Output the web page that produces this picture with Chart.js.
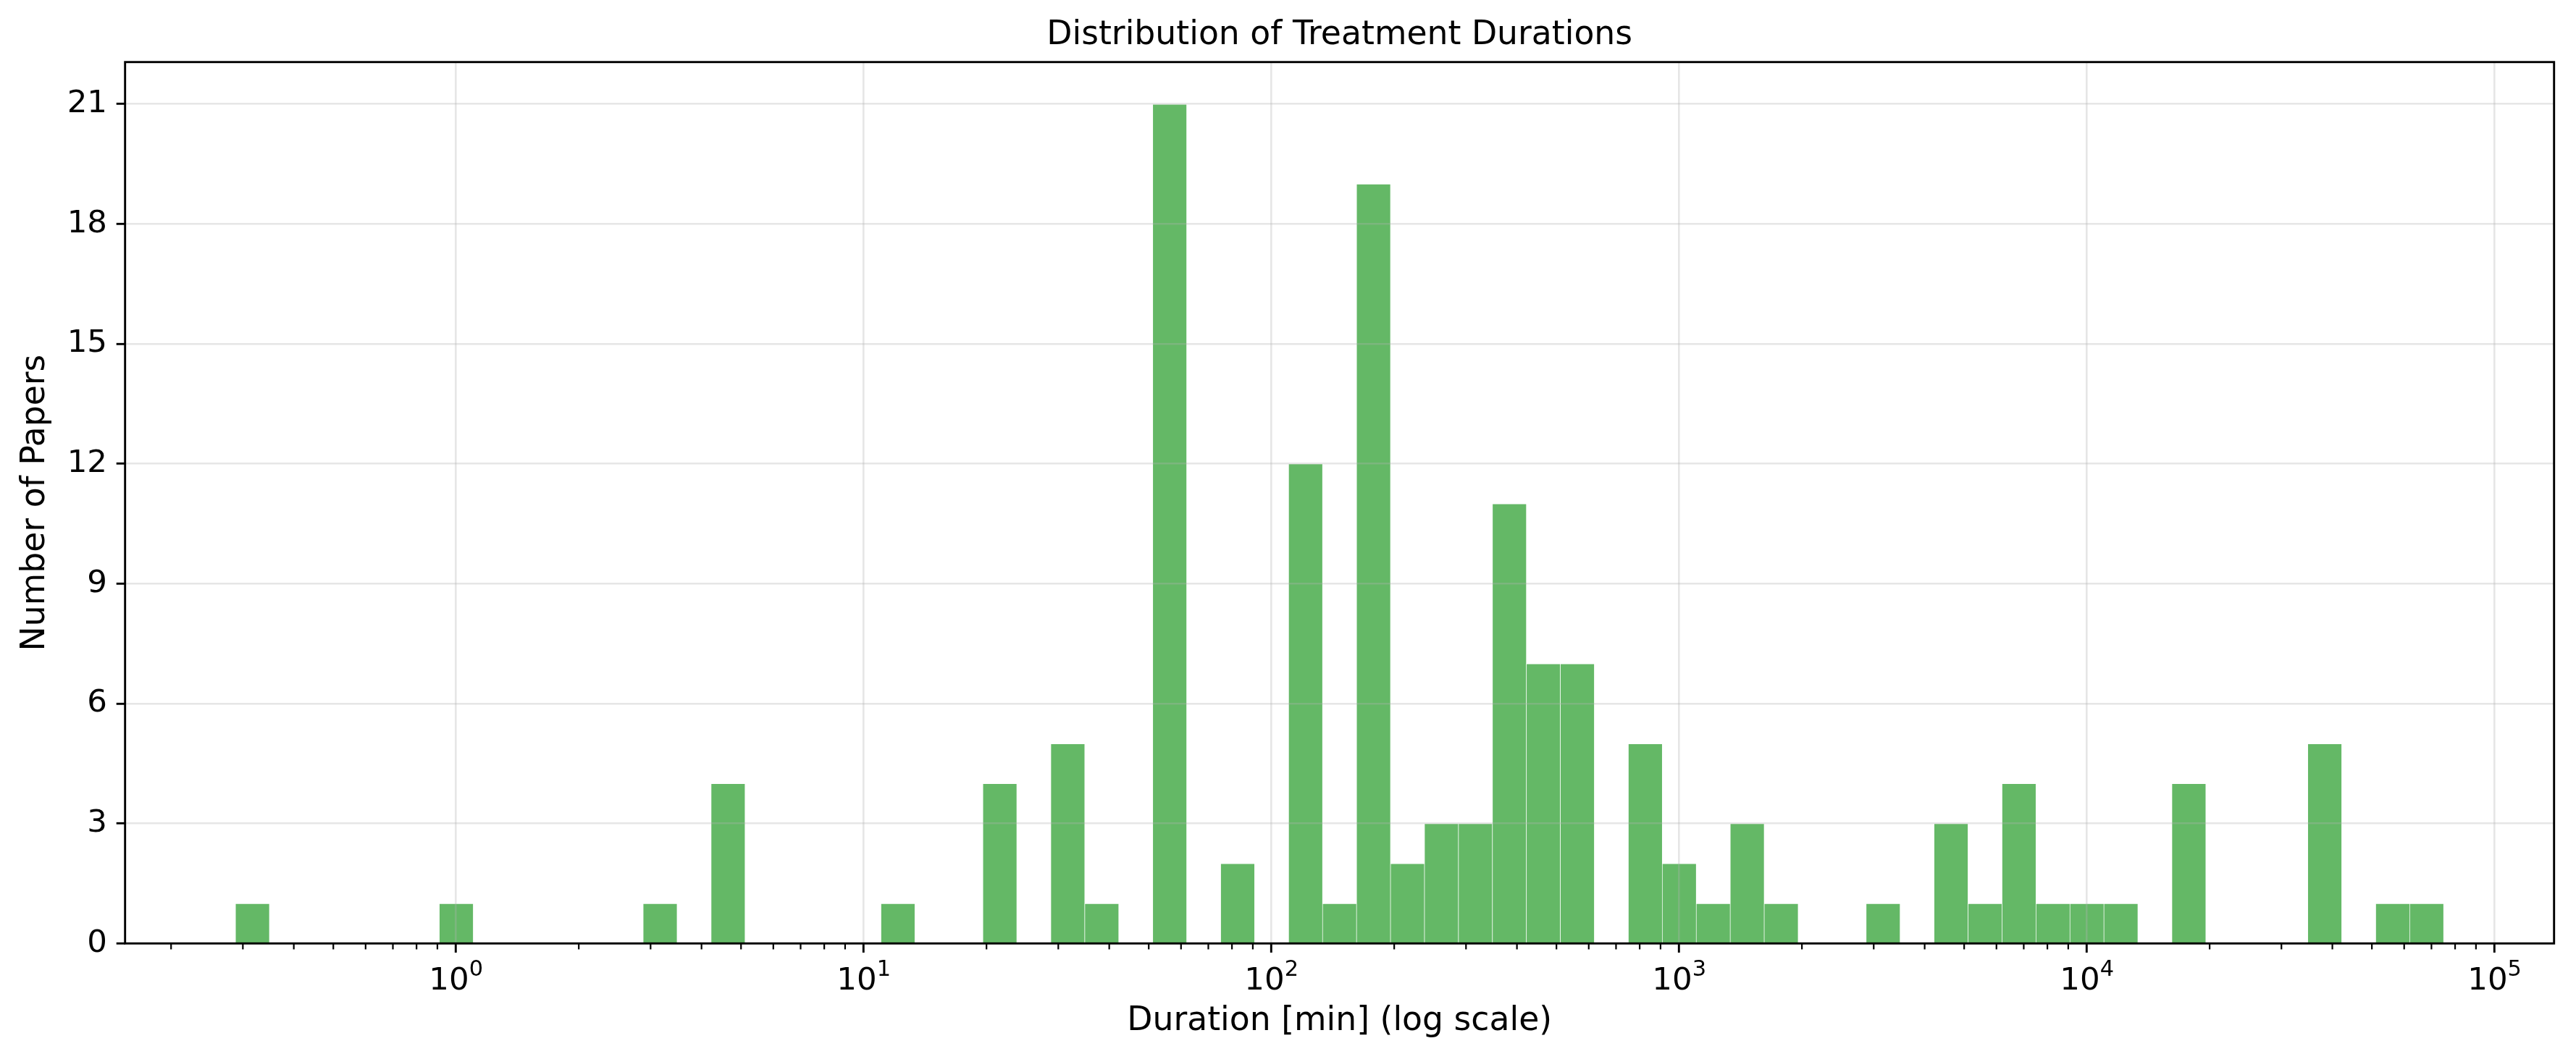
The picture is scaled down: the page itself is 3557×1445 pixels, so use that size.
<!DOCTYPE html>
<html>
<head>
<meta charset="utf-8">
<script src="https://cdn.jsdelivr.net/npm/chart.js@4.4.1/dist/chart.umd.min.js"></script>
<style>
  html, body { margin: 0; padding: 0; background: #ffffff; }
  canvas { display: block; }
</style>
</head>
<body>
<canvas id="c" width="3557" height="1445"></canvas>
<script>
// ---------------- data ----------------
const chartTitle = 'Distribution of Treatment Durations';
const xAxisLabel = 'Duration [min] (log scale)';
const yAxisLabel = 'Number of Papers';

// histogram: 65 equal-width bins in log10(duration in minutes)
const binLog10Start = -0.541;   // ≈ 0.29 min
const binLog10End = 4.875;      // ≈ 75 000 min
const binCounts = [
  1, 0, 0, 0, 0, 0, 1, 0, 0, 0,
  0, 0, 1, 0, 4, 0, 0, 0, 0, 1,
  0, 0, 4, 0, 5, 1, 0, 21, 0, 2,
  0, 12, 1, 19, 2, 3, 3, 11, 7, 7,
  0, 5, 2, 1, 3, 1, 0, 0, 1, 0,
  3, 1, 4, 1, 1, 1, 0, 4, 0, 0,
  0, 5, 0, 1, 1
];

const yTicks = [0, 3, 6, 9, 12, 15, 18, 21];
const xMajorExponents = [0, 1, 2, 3, 4, 5];
const xTickBase = '10';

// ---------------- derived structures ----------------
const binWidth = (binLog10End - binLog10Start) / binCounts.length;
const histData = binCounts.map((c, i) => ({ x: binLog10Start + (i + 0.5) * binWidth, y: c }));
const span = binLog10End - binLog10Start;
const xMin = binLog10Start - 0.05 * span;
const xMax = binLog10End + 0.05 * span;
const yMax = Math.max(...binCounts) * 1.05;

const minorTicks = [];
for (let e = Math.floor(xMin); e <= Math.ceil(xMax); e++) {
  for (let m = 2; m <= 9; m++) {
    const v = e + Math.log10(m);
    if (v > xMin && v < xMax) minorTicks.push(v);
  }
}

const FONT = 'DejaVu Sans';
const GRID = 'rgba(176,176,176,0.32)';
const TICK_FONT = 43.5;
const SUP_FONT = TICK_FONT * 0.7;

Chart.defaults.font.family = FONT;
Chart.defaults.color = '#000';

const frame = {
  id: 'frame',
  afterDraw(chart) {
    const { ctx, chartArea: a, scales: { x } } = chart;
    ctx.save();
    // minor ticks
    ctx.strokeStyle = '#000';
    ctx.lineWidth = 2.2;
    ctx.beginPath();
    minorTicks.forEach(v => {
      const px = x.getPixelForValue(v);
      ctx.moveTo(px, a.bottom);
      ctx.lineTo(px, a.bottom + 8.3);
    });
    ctx.stroke();
    // spines
    ctx.lineWidth = 2.9;
    ctx.strokeRect(a.left, a.top, a.right - a.left, a.bottom - a.top);
    // x tick labels: 10 with superscript exponent
    ctx.fillStyle = '#000';
    ctx.textBaseline = 'alphabetic';
    ctx.textAlign = 'left';
    const baseY = a.bottom + 63.4;
    xMajorExponents.forEach(e => {
      const px = x.getPixelForValue(e);
      const sup = String(e);
      ctx.font = TICK_FONT + 'px "' + FONT + '"';
      const wb = ctx.measureText(xTickBase).width;
      ctx.font = SUP_FONT + 'px "' + FONT + '"';
      const ws = ctx.measureText(sup).width;
      const x0 = px - (wb + ws) / 2;
      ctx.font = TICK_FONT + 'px "' + FONT + '"';
      ctx.fillText(xTickBase, x0, baseY);
      ctx.font = SUP_FONT + 'px "' + FONT + '"';
      ctx.fillText(sup, x0 + wb, baseY - 18.4);
    });
    ctx.restore();
  }
};

new Chart(document.getElementById('c'), {
  type: 'bar',
  data: {
    datasets: [{
      label: 'Papers',
      data: histData,
      backgroundColor: 'rgb(100,184,102)',
      borderColor: '#ffffff',
      borderWidth: { top: 1, left: 0.7, right: 0.7, bottom: 0 },
      borderSkipped: 'start',
      categoryPercentage: 1.0,
      barPercentage: 1.0
    }]
  },
  options: {
    responsive: false,
    animation: false,
    devicePixelRatio: 1,
    events: [],
    layout: { padding: { left: 0, right: 30.3, top: 0, bottom: 0 } },
    plugins: {
      legend: { display: false },
      tooltip: { enabled: false },
      title: {
        display: true,
        text: chartTitle,
        fullSize: false,
        color: '#000',
        font: { family: FONT, size: 45.7, weight: 'normal' },
        padding: { top: 21.8, bottom: 9.1 }
      }
    },
    scales: {
      x: {
        type: 'linear',
        min: xMin,
        max: xMax,
        offset: false,
        afterBuildTicks: s => { s.ticks = xMajorExponents.map(v => ({ value: v })); },
        afterFit: s => { s.height = 141.7; },
        grid: {
          offset: false, z: 1, color: GRID, lineWidth: 2.6,
          drawTicks: true, tickLength: 12.7, tickColor: '#000', tickWidth: 2.9
        },
        border: { display: false },
        ticks: { display: false, autoSkip: false, maxRotation: 0, minRotation: 0 },
        title: {
          display: true, text: xAxisLabel, color: '#000',
          font: { family: FONT, size: 45.7 },
          padding: { top: 0, bottom: 6.7 }
        }
      },
      y: {
        type: 'linear',
        min: 0,
        max: yMax,
        afterBuildTicks: s => { s.ticks = yTicks.map(v => ({ value: v })); },
        afterFit: s => { s.width = 172.7; },
        grid: {
          z: 1, color: GRID, lineWidth: 2.6,
          drawTicks: true, tickLength: 12, tickColor: '#000', tickWidth: 2.9
        },
        border: { display: false },
        ticks: {
          padding: 12.7, color: '#000',
          font: { family: FONT, size: TICK_FONT }
        },
        title: {
          display: true, text: yAxisLabel, color: '#000',
          font: { family: FONT, size: 45.7 },
          padding: { top: 21.8, bottom: 0 }
        }
      }
    }
  },
  plugins: [frame]
});
</script>
</body>
</html>
